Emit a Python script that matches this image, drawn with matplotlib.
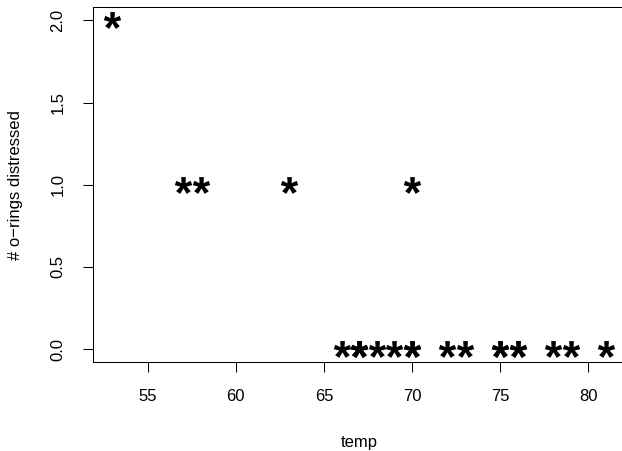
import numpy as np
import matplotlib.pyplot as plt
from matplotlib.textpath import TextPath
from matplotlib.font_manager import FontProperties
from matplotlib.path import Path

plt.rcParams['font.family'] = ['Liberation Sans', 'DejaVu Sans']

# challenger o-ring data
temp = [53, 57, 58, 63, 70,
        66, 67, 67, 67, 68, 69, 70, 70, 72, 73, 75, 75, 76, 76, 78, 79, 81]
distress = [2, 1, 1, 1, 1,
            0, 0, 0, 0, 0, 0, 0, 0, 0, 0, 0, 0, 0, 0, 0, 0, 0]
xticks = [55, 60, 65, 70, 75, 80]
yticks = [0.0, 0.5, 1.0, 1.5, 2.0]

# "*" glyph as a marker, centred on its ink
tp = TextPath((0, 0), '*', size=10,
              prop=FontProperties(family='Liberation Sans', weight='bold'))
v = tp.vertices.copy()
codes = tp.codes
real = codes != Path.CLOSEPOLY
v -= (v[real].min(axis=0) + v[real].max(axis=0)) / 2
v[~real] = 0
star = Path(v, codes)

fig = plt.figure(figsize=(6.22, 4.51), dpi=100)
ax = fig.add_axes([0.149, 0.197, 1.006 - 0.149, 0.984 - 0.197])
ax.plot(temp, distress, linestyle='none', marker=star, markersize=12.5,
        color='black', markeredgewidth=0)

ax.set_xlim(51.88, 82.12)
ax.set_ylim(-0.08, 2.08)
ax.set_xticks(xticks)
ax.set_yticks(yticks)
ax.set_yticklabels(['%.1f' % v for v in yticks], rotation=90, va='center')
ax.tick_params(direction='out', length=7.5, width=0.75, labelsize=12)
ax.tick_params(axis='x', pad=12)
ax.tick_params(axis='y', pad=12)

for s in ax.spines.values():
    s.set_linewidth(0.75)

ax.set_xlabel('temp', fontsize=12, labelpad=22)
ax.set_ylabel('# o\u2212rings distressed', fontsize=12, labelpad=20)

plt.savefig('out.png', dpi=100)
